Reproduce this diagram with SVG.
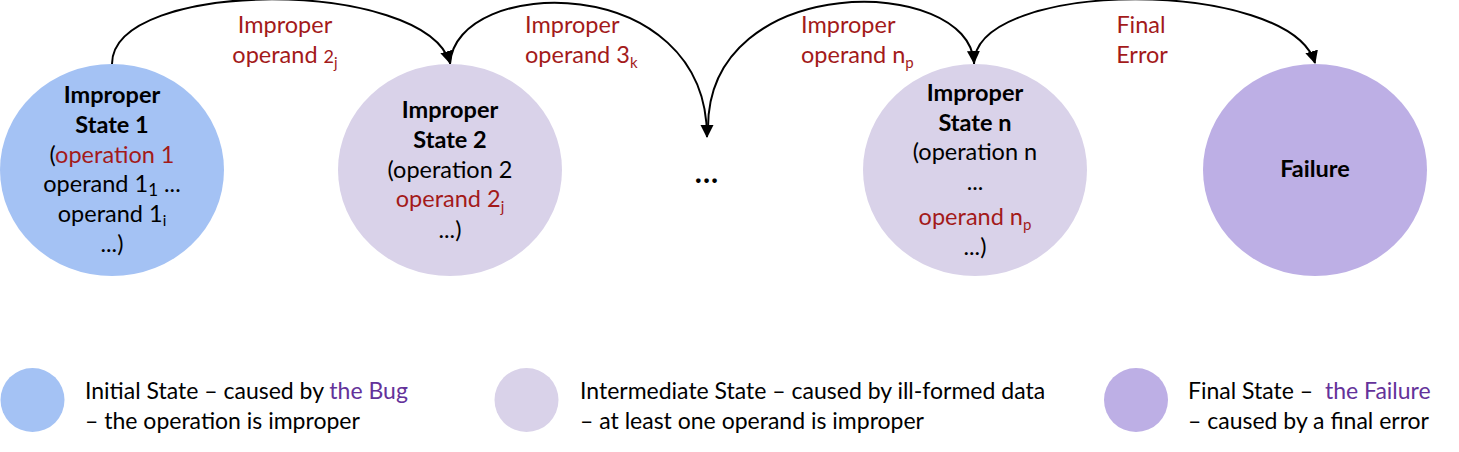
<svg xmlns="http://www.w3.org/2000/svg" width="1459" height="452" viewBox="0 0 1459 452">
<style>
text{font-family:Lato,"Liberation Sans",sans-serif;font-size:23.5px;fill:#000}
.b{font-weight:bold}
.red{fill:#A31A1A}
.pur{fill:#64329A}
.mid{text-anchor:middle}
.sub{font-size:15px}
.lg{font-size:23px}
.edge{fill:none;stroke:#000;stroke-width:2}
.init{fill:#A4C2F4}
.inter{fill:#D9D2E9}
.fin{fill:#BDAFE5}
</style>
<defs>
<marker id="arr" markerUnits="userSpaceOnUse" markerWidth="14" markerHeight="14" refX="12" refY="6.5" orient="auto">
<path d="M0,0 L13,6.5 L0,13 z" fill="#000"/>
</marker>
</defs>
<g id="node1">
<ellipse class="init" cx="112" cy="170" rx="112" ry="106"/>
<text class="mid b" x="112" y="103">Improper</text>
<text class="mid b" x="112" y="133">State 1</text>
<text class="mid" x="112" y="163">(<tspan class="red">operation 1</tspan></text>
<text class="mid" x="112" y="192">operand 1<tspan font-size="17" dy="4">1</tspan><tspan dy="-4"> ...</tspan></text>
<text class="mid" x="112" y="222">operand 1<tspan class="sub" dy="4">i</tspan></text>
<text class="mid" x="112" y="252">...)</text>
</g>
<g id="node2">
<ellipse class="inter" cx="450" cy="170" rx="112" ry="106"/>
<text class="mid b" x="450" y="118">Improper</text>
<text class="mid b" x="450" y="148">State 2</text>
<text class="mid" x="450" y="178">(operation 2</text>
<text class="mid red" x="450" y="207">operand 2<tspan class="sub" dy="5">j</tspan></text>
<text class="mid" x="450" y="238">...)</text>
</g>
<g id="node-dots">
<text class="mid b" x="707" y="183" style="font-size:30px;letter-spacing:1px">...</text>
</g>
<g id="node3">
<ellipse class="inter" cx="975" cy="170" rx="112" ry="106"/>
<text class="mid b" x="975" y="101">Improper</text>
<text class="mid b" x="975" y="131">State n</text>
<text class="mid" x="975" y="160">(operation n</text>
<text class="mid" x="975" y="190">...</text>
<text class="mid red" x="975" y="225">operand n<tspan class="sub" dy="5">p</tspan></text>
<text class="mid" x="975" y="255">...)</text>
</g>
<g id="node-failure">
<ellipse class="fin" cx="1315" cy="170" rx="112" ry="106"/>
<text class="mid b" x="1315" y="177">Failure</text>
</g>
<g id="connectors">
<path class="edge" marker-end="url(#arr)" d="M112,64 C112,-22 425,-22 450,63"/>
<path class="edge" marker-end="url(#arr)" d="M450,64 C455,-25 707,-30 707,137"/>
<path class="edge" d="M708,128 C708,-30 970,-25 974,63" marker-end="url(#arr)"/>
<path class="edge" marker-end="url(#arr)" d="M974,64 C974,-22 1290,-22 1315,63"/>
<text class="mid red" x="285" y="33">Improper</text>
<text class="mid red" x="285" y="63">operand <tspan font-size="18">2</tspan><tspan class="sub" dy="5">j</tspan></text>
<text class="red" x="525" y="33">Improper</text>
<text class="red" x="525" y="63">operand 3<tspan class="sub" dy="5">k</tspan></text>
<text class="red" x="801" y="33">Improper</text>
<text class="red" x="801" y="63">operand n<tspan class="sub" dy="5">p</tspan></text>
<text class="mid red" x="1141" y="33">Final</text>
<text class="mid red" x="1142" y="63">Error</text>
</g>
<g id="legend">
<circle class="init" cx="32.5" cy="400" r="32"/>
<text class="lg" x="85" y="399">Initial State – caused by <tspan class="pur">the Bug</tspan></text>
<text class="lg" x="85" y="429">– the operation is improper</text>
<circle class="inter" cx="526.5" cy="400" r="32"/>
<text class="lg" x="580" y="399">Intermediate State – caused by ill-formed data</text>
<text class="lg" x="580" y="429">– at least one operand is improper</text>
<circle class="fin" cx="1136" cy="400" r="32"/>
<text class="lg" x="1188" y="399">Final State – &#160;<tspan class="pur">the Failure</tspan></text>
<text class="lg" x="1188" y="429">– caused by a final error</text>
</g>
</svg>
